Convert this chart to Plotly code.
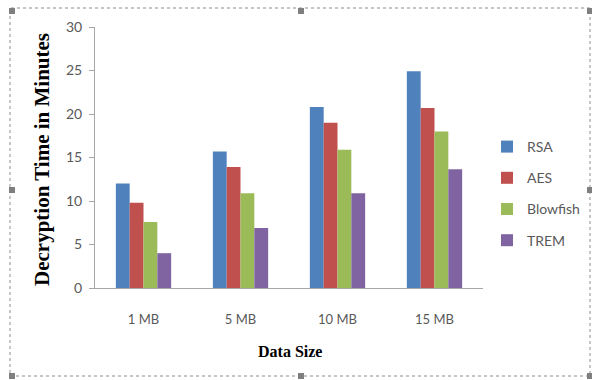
import plotly.graph_objects as go

categories = ["1 MB", "5 MB", "10 MB", "15 MB"]
rsa = [12.0, 15.7, 20.8, 24.9]
aes = [9.8, 13.9, 19.0, 20.7]
blowfish = [7.6, 10.9, 15.9, 18.0]
trem = [4.0, 6.9, 10.9, 13.65]

series = [
    ("RSA", rsa, "#4F81BD"),
    ("AES", aes, "#C0504D"),
    ("Blowfish", blowfish, "#9BBB59"),
    ("TREM", trem, "#8064A2"),
]

fig = go.Figure()
for i, (name, vals, color) in enumerate(series):
    fig.add_trace(go.Bar(
        x=categories, y=vals, name=name, legendgroup=f"g{i}",
        marker=dict(color=color, line=dict(width=0)),
    ))

W, H = 592, 380
L, R, T, B = 95, 109, 27, 92

# dotted frame with selection handles, positioned in pixels from the plot origin
shapes = [dict(
    type="rect", xref="paper", yref="paper",
    xsizemode="pixel", ysizemode="pixel", xanchor=0, yanchor=0,
    x0=10 - L, x1=590 - L, y0=(H - B) - 376, y1=(H - B) - 8,
    line=dict(color="#8C8C8C", width=1, dash="dot"), layer="below",
)]
for hx in (12, 301, 590):
    for hy in (11, 190, 376):
        if hx == 301 and hy == 190:
            continue
        shapes.append(dict(
            type="rect", xref="paper", yref="paper",
            xsizemode="pixel", ysizemode="pixel", xanchor=0, yanchor=0,
            x0=hx - L - 3, x1=hx - L + 3,
            y0=(H - B) - hy - 3, y1=(H - B) - hy + 3,
            line=dict(width=0), fillcolor="#7F7F7F",
        ))

fig.update_layout(
    width=W, height=H,
    margin=dict(l=L, r=R, t=T, b=B, autoexpand=False),
    paper_bgcolor="white", plot_bgcolor="white",
    barmode="group", bargap=0.43, bargroupgap=0,
    font=dict(family="Lato, Carlito, Liberation Sans, sans-serif", color="#595959", size=13),
    showlegend=True,
    legend=dict(
        x=(487 - L) / (W - L - R), xanchor="left", y=(288 - 131) / (H - T - B), yanchor="top",
        traceorder="grouped", tracegroupgap=10,
        font=dict(size=14, color="#595959"),
        bgcolor="rgba(0,0,0,0)",
    ),
    shapes=shapes,
    annotations=[
        dict(text="<b>Decryption Time in Minutes</b>", textangle=-90,
             xref="paper", yref="paper", x=(42 - L) / (W - L - R), y=(288 - 160) / (H - T - B),
             xanchor="center", yanchor="middle", showarrow=False,
             font=dict(family="Liberation Serif, Times New Roman, serif", size=21, color="black")),
        dict(text="<b>Data Size</b>",
             xref="paper", yref="paper", x=(290 - L) / (W - L - R), y=(288 - 351) / (H - T - B),
             xanchor="center", yanchor="middle", showarrow=False,
             font=dict(family="Liberation Serif, Times New Roman, serif", size=16, color="black")),
    ],
)

fig.update_xaxes(
    showline=True, linecolor="#A6A6A6", linewidth=1,
    ticks="", showgrid=False, tickfont=dict(size=13, color="#595959"),
    ticklabelstandoff=19,
)
fig.update_yaxes(
    range=[0, 30], dtick=5, showline=True, linecolor="#A6A6A6", linewidth=1,
    ticks="outside", ticklen=5, tickcolor="#A6A6A6", showgrid=False,
    zeroline=False, tickfont=dict(size=14, color="#595959"), ticklabelstandoff=4,
)

fig.write_html("out.html")
